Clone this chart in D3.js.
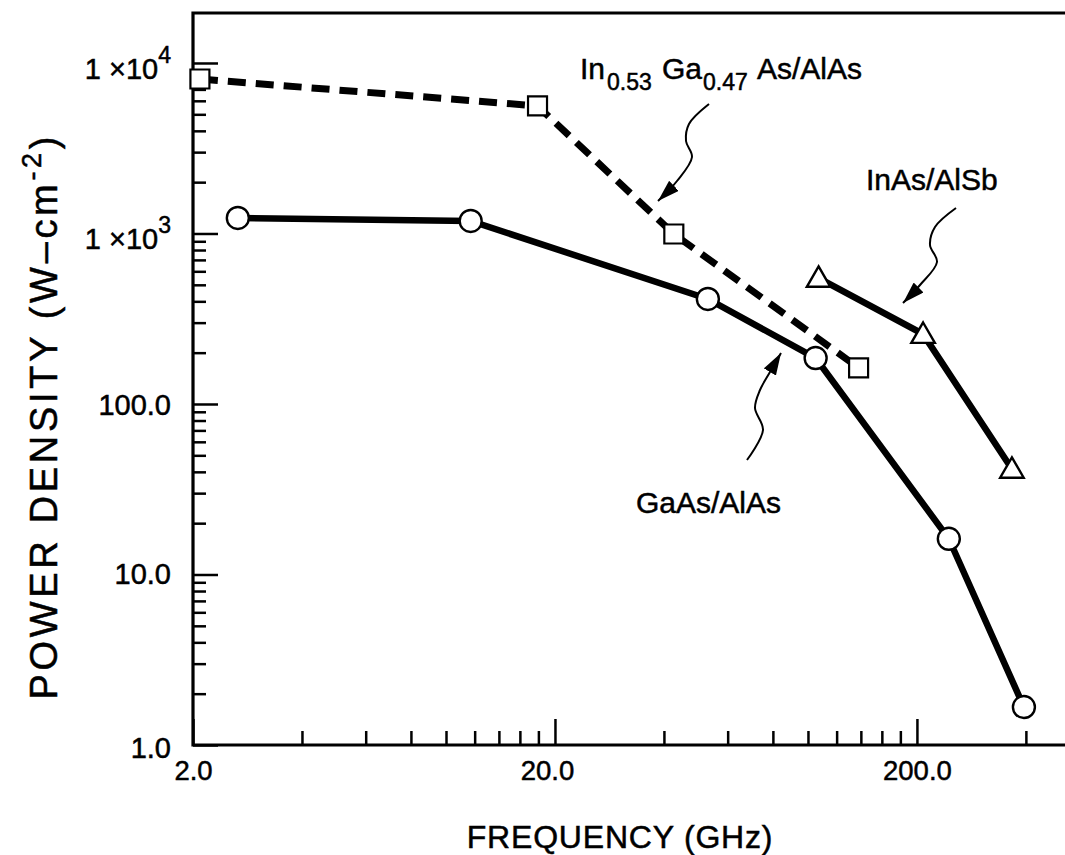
<!DOCTYPE html>
<html>
<head>
<meta charset="utf-8">
<script src="https://cdn.jsdelivr.net/npm/d3@7"></script>
<style>
  body { margin: 0; background: #fff; }
  text { font-family: "Liberation Sans", Arial, Helvetica, sans-serif; fill: #000; stroke: #000; stroke-width: 0.5px; }
</style>
</head>
<body>
<div id="chart-area"></div>
<script>
// values: frequency (GHz) vs power density (W cm^-2)
const gaasFreq = [2.66, 11.7, 52.9, 105, 245, 395];
const gaasPower = [1233, 1184, 413, 186, 16.2, 1.67];

const ingaasFreq = [2.09, 17.9, 42.6, 138];
const ingaasPower = [8054, 5596, 993, 163];

const inasFreq = [107, 208, 366];
const inasPower = [548, 257, 41.6];

const xMajor = [2, 20, 200];
const xLabels = ['2.0', '20.0', '200.0'];
const yMajor = [1, 10, 100, 1000, 10000];
const yLabels = [['1.0'], ['10.0'], ['100.0'], ['1 \u00d710', '3'], ['1 \u00d710', '4']];

const width = 1065, height = 855;

const x = d3.scaleLog().domain([2, 513]).range([193, 1065]);
const y = d3.scaleLog().domain([1, 19640]).range([745, 13]);

const svg = d3.select('#chart-area').append('svg')
  .attr('width', width)
  .attr('height', height);

svg.append('rect').attr('width', width).attr('height', height).attr('fill', '#fff');

// minor ticks: k * decade start, k = 2..9
const xMinor = [];
[2, 20, 200].forEach(b => d3.range(2, 10).forEach(k => {
  const v = b * k;
  if (v < 513 && !xMajor.includes(v)) xMinor.push(v);
}));
const yMinor = [];
[1, 10, 100, 1000, 10000].forEach(b => d3.range(2, 10).forEach(k => {
  const v = b * k;
  if (v < 19640) yMinor.push(v);
}));

const tickStyle = g => {
  g.select('.domain').remove();
  g.selectAll('line').attr('stroke', '#000').attr('stroke-width', 2.5);
};

svg.append('g').attr('transform', 'translate(0,745)')
  .call(d3.axisBottom(x).tickValues(xMinor).tickSize(-14).tickFormat(''))
  .call(tickStyle);

svg.append('g').attr('transform', 'translate(0,745)')
  .call(d3.axisBottom(x).tickValues(xMajor).tickSize(-26).tickPadding(15)
    .tickFormat((d, i) => xLabels[i]))
  .call(tickStyle)
  .call(g => g.selectAll('text').attr('font-size', 27.5).attr('fill', '#000')
    .attr('dx', (d, i) => i === 1 ? -8 : 0));

svg.append('g').attr('transform', 'translate(193,0)')
  .call(d3.axisLeft(y).tickValues(yMinor).tickSize(-13).tickFormat(''))
  .call(tickStyle);

svg.append('g').attr('transform', 'translate(193,0)')
  .call(d3.axisLeft(y).tickValues(yMajor).tickSize(-25).tickFormat(''))
  .call(tickStyle);

// y tick labels (with superscripts)
const yOff = [13, 10, 11, 16, 16];
yMajor.forEach((v, i) => {
  const lab = yLabels[i];
  const t = svg.append('text')
    .attr('x', 171)
    .attr('y', y(v) + yOff[i])
    .attr('text-anchor', 'end')
    .attr('font-size', 29);
  t.append('tspan').text(lab[0]);
  if (lab.length > 1) {
    t.append('tspan').attr('dy', -16).attr('font-size', 23).text(lab[1]);
  }
});

// frame
svg.append('path')
  .attr('d', `M1065,${y.range()[1]}H193V745H1065`)
  .attr('fill', 'none')
  .attr('stroke', '#000')
  .attr('stroke-width', 3.2);

// axis titles
svg.append('text')
  .attr('x', 620).attr('y', 848)
  .attr('text-anchor', 'middle')
  .attr('font-size', 32)
  .attr('letter-spacing', 0.8)
  .text('FREQUENCY (GHz)');

const ytLen = 563;
const yt = svg.append('text')
  .attr('font-size', 38)
  .attr('textLength', ytLen)
  .attr('lengthAdjust', 'spacing')
  .attr('transform', `translate(57,${418 + ytLen / 2}) rotate(-90)`);
yt.append('tspan').text('POWER DENSITY (W\u2013cm');
yt.append('tspan').attr('dy', -16).attr('font-size', 27).text('-2');
yt.append('tspan').attr('dy', 16).text(')');

// series
const toPts = (fs, ps) => fs.map((f, i) => ({ f: f, p: ps[i] }));
const gaas = toPts(gaasFreq, gaasPower);
const ingaas = toPts(ingaasFreq, ingaasPower);
const inas = toPts(inasFreq, inasPower);

const line = d3.line().x(d => x(d.f)).y(d => y(d.p));

svg.append('path').datum(ingaas)
  .attr('d', line).attr('fill', 'none')
  .attr('stroke', '#000').attr('stroke-width', 7)
  .attr('stroke-dasharray', '18 10');

svg.append('path').datum(gaas)
  .attr('d', line).attr('fill', 'none')
  .attr('stroke', '#000').attr('stroke-width', 6.5);

svg.append('path').datum(inas)
  .attr('d', line).attr('fill', 'none')
  .attr('stroke', '#000').attr('stroke-width', 6.5);

svg.selectAll('.sq').data(ingaas).enter().append('path')
  .attr('transform', d => `translate(${x(d.f)},${y(d.p)})`)
  .attr('d', d3.symbol(d3.symbolSquare, 19 * 19))
  .attr('fill', '#fff').attr('stroke', '#000').attr('stroke-width', 2.2);

svg.selectAll('.ci').data(gaas).enter().append('circle')
  .attr('cx', d => x(d.f)).attr('cy', d => y(d.p)).attr('r', 11)
  .attr('fill', '#fff').attr('stroke', '#000').attr('stroke-width', 2.4);

svg.selectAll('.tr').data(inas).enter().append('path')
  .attr('transform', d => `translate(${x(d.f)},${y(d.p) + 2})`)
  .attr('d', d3.symbol(d3.symbolTriangle, 240))
  .attr('fill', '#fff').attr('stroke', '#000').attr('stroke-width', 2.4);

// annotations: wavy arrows
svg.append('defs').append('marker')
  .attr('id', 'head')
  .attr('viewBox', '0 -7 22 14')
  .attr('refX', 22).attr('refY', 0)
  .attr('markerWidth', 22).attr('markerHeight', 14)
  .attr('markerUnits', 'userSpaceOnUse')
  .attr('orient', 'auto')
  .append('path').attr('d', 'M0,-7L22,0L0,7Z').attr('fill', '#000');

const wavy = d3.line().curve(d3.curveCatmullRom.alpha(0.5));
const arrows = [
  [[709, 104], [689, 124], [686, 141], [692, 157], [677, 181], [658, 201]],
  [[956, 208], [935, 227], [930, 245], [937, 262], [920, 285], [903, 303]],
  [[747, 460], [763, 430], [755, 408], [760, 390], [770, 372], [781, 353]]
];
arrows.forEach(a => {
  svg.append('path')
    .attr('d', wavy(a))
    .attr('fill', 'none')
    .attr('stroke', '#000')
    .attr('stroke-width', 2)
    .attr('marker-end', 'url(#head)');
});

// series labels
const l1 = svg.append('text').attr('y', 79).attr('font-size', 30);
l1.append('tspan').attr('x', 580).text('In');
l1.append('tspan').attr('x', 607).attr('dy', 11).attr('font-size', 23).text('0.53');
l1.append('tspan').attr('x', 662).attr('dy', -11).text('Ga');
l1.append('tspan').attr('x', 703).attr('dy', 11).attr('font-size', 23).text('0.47');
l1.append('tspan').attr('x', 757).attr('dy', -11).text('As/AlAs');

svg.append('text').attr('x', 866).attr('y', 190).attr('font-size', 30).text('InAs/AlSb');
svg.append('text').attr('x', 636).attr('y', 513).attr('font-size', 30).text('GaAs/AlAs');
</script>
</body>
</html>
